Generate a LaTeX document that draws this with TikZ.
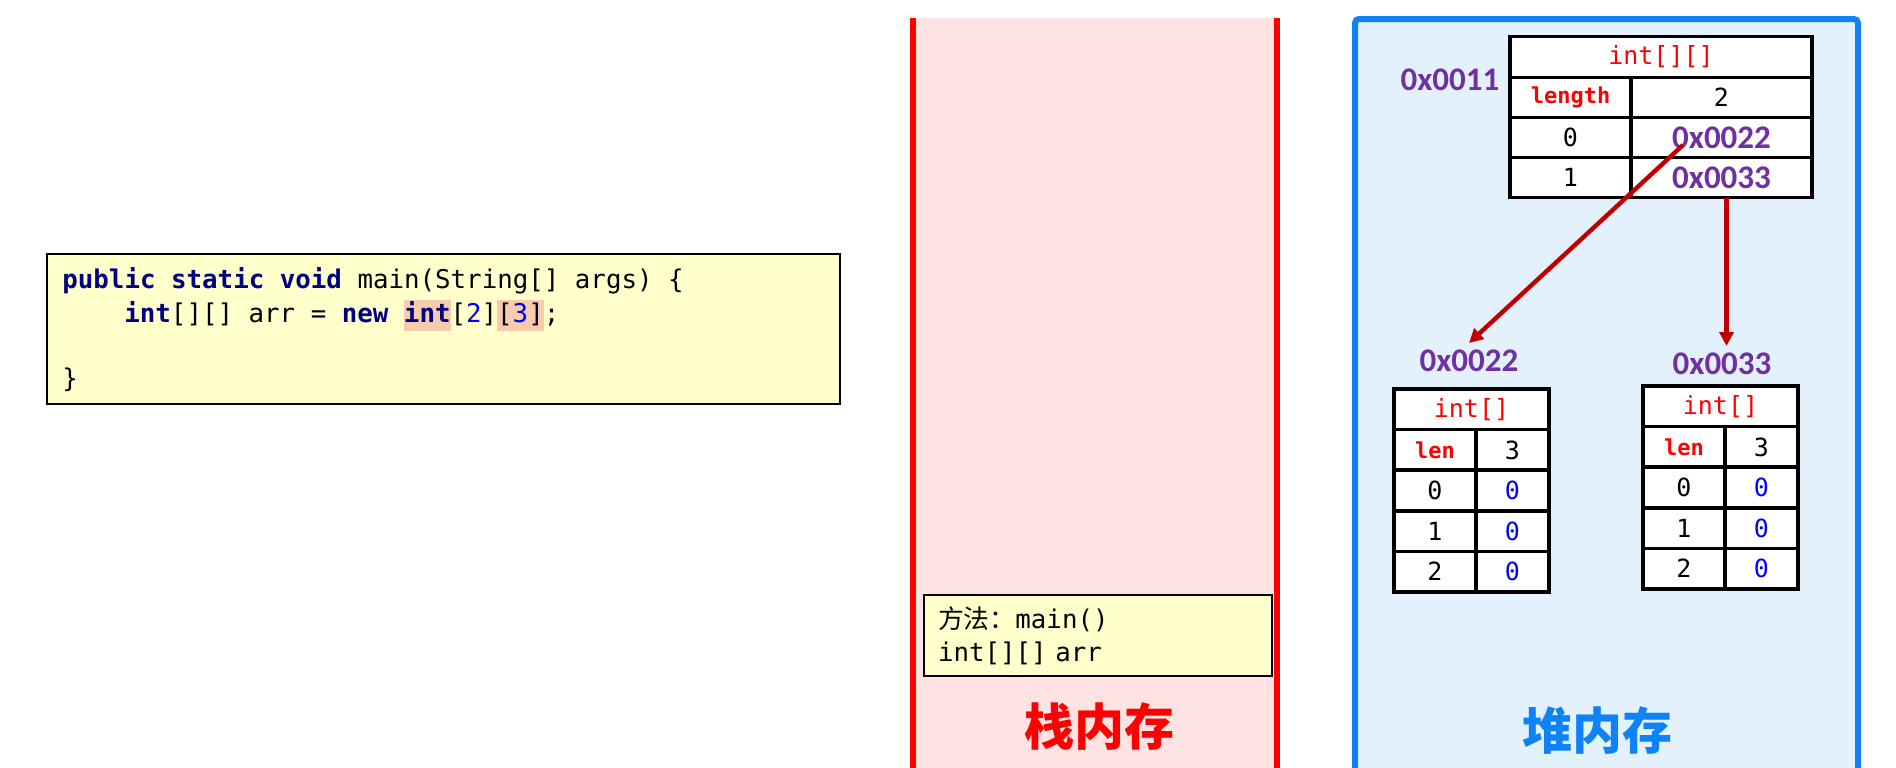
\documentclass[tikz,border=0pt]{standalone}
\usepackage{fontspec}
\usepackage{xcolor}
\usepackage{tikz}
\usetikzlibrary{arrows.meta}
\setmonofont{DejaVu Sans Mono}
\newfontfamily\addrfont{Carlito}
\newfontfamily\cjk{Noto Sans CJK SC}

\definecolor{stackfill}{HTML}{FFE3E3}
\definecolor{stackred}{HTML}{FF0000}
\definecolor{heapfill}{HTML}{E3F1FD}
\definecolor{heapblue}{HTML}{0F82F5}
\definecolor{codebg}{HTML}{FFFFCC}
\definecolor{hlbg}{HTML}{F8CBAD}
\definecolor{kwblue}{HTML}{000080}
\definecolor{numblue}{HTML}{0000FF}
\definecolor{addrpurple}{HTML}{7030A0}
\definecolor{arrowred}{HTML}{C00000}

\newcommand{\codekw}[1]{\textbf{\color{kwblue}#1}}
\newcommand{\codenum}[1]{{\color{numblue}#1}}
\newcommand{\codehl}[1]{{\fboxsep=0pt\colorbox{hlbg}{\strut#1}}}

\begin{document}
\begin{tikzpicture}[x=0.5pt,y=-0.5pt,
    cell/.style={draw,line width=1.8pt,fill=white,inner sep=0pt,outer sep=0pt,
      minimum height=20.3pt,font=\ttfamily\fontsize{12.5}{15}\selectfont},
    lenfont/.style={font=\ttfamily\bfseries\fontsize{11}{13}\selectfont,text=red},
    addr/.style={font=\addrfont\bfseries\fontsize{16.5}{18}\selectfont,text=addrpurple},
    codeline/.style={anchor=base west,inner sep=0pt,font=\ttfamily\fontsize{12.9}{15.5}\selectfont},
    region/.style={font=\cjk\bfseries\fontsize{25}{28}\selectfont},
    >={Triangle[length=7pt,width=7pt]}]
  \clip (0,0) rectangle (1896,767);
  % stack and heap areas
  \fill[stackfill] (913,18) rectangle (1277,800);
  \draw[stackred,line width=3pt] (913,18) -- (913,800) (1277,18) -- (1277,800);
  \draw[heapblue,fill=heapfill,line width=3pt,rounded corners=2pt] (1355,19) rectangle (1858,800);
  \node[region,text=stackred] (stacklbl) at (1099,727) {栈内存};
  \node[region,text=heapblue] (heaplbl) at (1597,731) {堆内存};

  % code
  \node[draw,line width=0.8pt,fill=codebg,minimum width=396.5pt,minimum height=75pt] (code) at (443.5,329) {};
  \node[codeline] (code1) at (62,288) {\codekw{public} \codekw{static} \codekw{void} main(String[] args) \{};
  \node[codeline] (code2) at (124,322) {\codekw{int}[][] arr = \codekw{new} \codehl{\codekw{int}}[\codenum{2}]\codehl{[\codenum{3}]};};
  \node[codeline] (code3) at (62,387) {\}};

  % stack frame
  \node[draw,line width=0.8pt,fill=codebg,minimum width=174pt,minimum height=40.5pt,
    text width=160pt,inner xsep=7pt,align=left,font=\ttfamily\fontsize{12.9}{16.5}\selectfont]
    (frame) at (1098,635.5) {{\cjk 方法：}main()\\int[][] arr};

  % outer array
  \node[addr] (a0011) at (1450,80) {0x0011};
  \node[cell,minimum width=151pt,minimum height=20.5pt,text=red] (thead) at (1661,57) {int[][]};
  \node[cell,minimum width=60.5pt,minimum height=20pt,lenfont] (tlen) at (1570.5,97.5) {length};
  \node[cell,minimum width=90.5pt,minimum height=20pt] (tlenv) at (1721.5,97.5) {2};
  \foreach \i/\a in {0/0x0022,1/0x0033} {
    \node[cell,minimum width=60.5pt,minimum height=20pt] (t\i) at (1570.5,137.5+40*\i) {\i};
    \node[cell,minimum width=90.5pt,minimum height=20pt,addr] (t\i v) at (1721.5,137.5+40*\i) {\a};
  }

  % inner arrays
  \node[addr] (a0022) at (1469,361) {0x0022};
  \node[addr] (a0033) at (1722,364) {0x0033};
  \foreach \p/\ox/\oy in {a/1394/389,b/1643/386} {
    \begin{scope}[shift={(\ox,\oy)}]
      \node[cell,minimum width=77.5pt,text=red] (\p head) at (77.5,20.3) {int[]};
      \node[cell,minimum width=41pt,lenfont] (\p len) at (41,60.9) {len};
      \node[cell,minimum width=36.5pt] (\p lenv) at (118.5,60.9) {3};
      \foreach \k in {0,1,2} {
        \node[cell,minimum width=41pt] (\p\k) at (41,101.5+40.6*\k) {\k};
        \node[cell,minimum width=36.5pt,text=numblue] (\p\k v) at (118.5,101.5+40.6*\k) {0};
      }
    \end{scope}
  }

  % references
  \coordinate (p0) at (1683,145);
  \draw[->,arrowred,line width=2.2pt] (p0) -- (a0022.north);
  \draw[->,arrowred,line width=2.2pt] ([xshift=2.5pt]t1v.south) -- ([xshift=2.5pt]t1v.south |- a0033.north);
\end{tikzpicture}
\end{document}
